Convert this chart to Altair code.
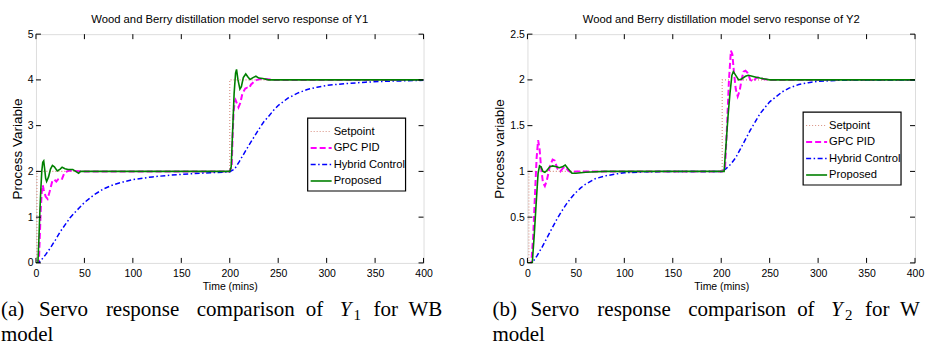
import altair as alt
import pandas as pd

# ---------------- data ----------------
X_TICKS = [0, 50, 100, 150, 200, 250, 300, 350, 400]
Y1_TICKS = [0, 1, 2, 3, 4, 5]
Y2_TICKS = [0, 0.5, 1, 1.5, 2, 2.5]
SERIES = ["Setpoint", "GPC PID", "Hybrid Control", "Proposed"]

# Y1 panel
y1_set_t = [0, 1, 1, 200, 200, 400]
y1_set_v = [0, 0, 2, 2, 4, 4]

y1_gpc_t = [0, 3, 4, 5, 6, 7, 8, 10, 12, 14, 17, 19, 21, 23, 25, 27, 29, 32, 35, 40, 50,
            200, 202, 203, 204, 205, 206, 208, 209, 211, 213, 216, 218, 220, 222, 225, 228, 232, 236, 245, 400]
y1_gpc_v = [0, 0, 0.6, 1.2, 1.55, 1.7, 1.6, 1.45, 1.4, 1.55, 1.8, 1.82, 1.78, 1.83, 1.86, 1.84, 1.95, 2.0, 2.02, 2.01, 2.0,
            2.0, 2.1, 2.8, 3.3, 3.5, 3.56, 3.45, 3.4, 3.5, 3.7, 3.81, 3.83, 3.82, 3.9, 3.96, 4.0, 4.02, 4.02, 4.0, 4.0]

y1_hyb_t = [0, 3, 5, 10, 15, 20, 25, 30, 35, 40, 45, 50, 60, 70, 80, 90, 100, 120, 140, 160, 180, 200,
            205, 210, 215, 220, 225, 230, 235, 240, 245, 250, 260, 270, 280, 290, 300, 320, 340, 360, 380, 400]
y1_hyb_v = [0, 0, 0.05, 0.18, 0.33, 0.5, 0.68, 0.83, 0.98, 1.1, 1.21, 1.32, 1.49, 1.62, 1.71, 1.77, 1.82, 1.88, 1.92, 1.95, 1.97, 1.99,
            2.05, 2.22, 2.4, 2.58, 2.75, 2.92, 3.08, 3.2, 3.33, 3.44, 3.6, 3.71, 3.79, 3.84, 3.88, 3.92, 3.95, 3.97, 3.98, 3.99]

y1_pro_t = [0, 2, 3, 4, 5, 6, 7, 8, 9, 10, 11, 13, 15, 17, 19, 22, 25, 27, 30, 33, 38, 41, 44, 46, 60,
            200, 201.5, 203, 204.5, 206, 207, 208.5, 210.5, 212, 214, 216.5, 219, 221, 224, 227, 230, 234, 240, 400]
y1_pro_v = [0, 0, 0.5, 1.1, 1.6, 2.0, 2.2, 2.23, 2.05, 1.85, 1.78, 1.88, 2.05, 2.13, 2.1, 2.01, 2.05, 2.09, 2.06, 2.04, 2.04, 2.0, 1.96, 2.0, 2.0,
            2.0, 2.1, 2.9, 3.7, 4.15, 4.23, 4.0, 3.8, 3.85, 4.05, 4.13, 4.06, 4.01, 4.05, 4.08, 4.04, 4.03, 4.0, 4.0]

# Y2 panel
y2_set_t = [0, 1.5, 1.5, 201, 201, 400]
y2_set_v = [0, 0, 1, 1, 2, 2]

y2_gpc_t = [0, 4, 6, 8, 9.5, 11, 12.5, 14, 16, 18, 20, 23, 26, 28, 31, 34, 37, 39, 42, 45, 50, 60,
            201, 204, 206, 208, 210, 211.5, 213, 215, 217, 219, 221, 223, 225, 227, 230, 233, 236, 239, 243, 250, 400]
y2_gpc_v = [0, 0, 0.3, 0.8, 1.15, 1.34, 1.25, 1.05, 0.88, 0.84, 0.9, 1.05, 1.13, 1.12, 1.03, 1.0, 1.04, 1.05, 1.01, 0.99, 1.0, 1.0,
            1.0, 1.05, 1.5, 2.0, 2.32, 2.28, 2.1, 1.9, 1.82, 1.88, 2.0, 2.09, 2.1, 2.08, 2.0, 1.98, 2.02, 2.03, 2.01, 2.0, 2.0]

y2_hyb_t = [0, 5, 10, 15, 20, 25, 30, 35, 40, 45, 50, 55, 60, 70, 80, 90, 100, 120, 150, 201,
            205, 210, 215, 220, 230, 240, 246, 250, 263, 270, 280, 290, 300, 320, 350, 400]
y2_hyb_v = [0, 0, 0.08, 0.17, 0.27, 0.37, 0.47, 0.56, 0.64, 0.71, 0.77, 0.82, 0.86, 0.92, 0.95, 0.97, 0.985, 0.995, 1.0, 1.0,
            1.03, 1.08, 1.15, 1.25, 1.45, 1.63, 1.71, 1.76, 1.87, 1.91, 1.95, 1.97, 1.985, 1.995, 2.0, 2.0]

y2_pro_t = [0, 5, 7, 9, 11, 12.5, 14, 16, 18, 20, 23, 26, 30, 33, 36, 39, 42, 46, 50, 60, 80,
            201, 203, 205, 207, 209, 211, 212.5, 215, 218, 221, 225, 228, 232, 236, 240, 245, 250, 400]
y2_pro_v = [0, 0, 0.3, 0.65, 0.98, 1.06, 1.05, 1.0, 0.99, 1.01, 1.05, 1.06, 1.05, 1.04, 1.05, 1.07, 1.03, 0.98, 0.98, 0.99, 1.0,
            1.0, 1.0, 1.3, 1.6, 1.85, 2.05, 2.09, 2.05, 2.0, 2.01, 2.04, 2.05, 2.04, 2.03, 2.02, 2.01, 2.0, 2.0]

# ---------------- styles ----------------
SANS = "Liberation Sans, Arial"
SERIF = "Liberation Serif, Times New Roman, serif"
STYLE = {
    "Setpoint": dict(color="#d88f80", strokeDash=[1, 2], strokeWidth=1.1),
    "GPC PID": dict(color="#ff00ff", strokeDash=[6, 3], strokeWidth=2),
    "Hybrid Control": dict(color="#0000ff", strokeDash=[5, 2.5, 1.5, 2.5], strokeWidth=1.5),
    "Proposed": dict(color="#008000", strokeWidth=1.6),
}
W, H = 388, 229


def series_df(t, v):
    return pd.DataFrame({"t": t, "v": v, "i": list(range(len(t)))})


def panel(series, y_ticks, y_max, title, ytitle, tag, sub, lx, ly, last_limit):
    xs = alt.Scale(domain=[0, 400], nice=False, zero=False)
    ys = alt.Scale(domain=[0, y_max], nice=False, zero=True)
    xaxis = alt.Axis(values=X_TICKS, title="Time (mins)", grid=False, domain=False, ticks=False,
                     labelFont=SANS, labelFontSize=10.5, labelColor="black", labelPadding=6,
                     titleFont=SANS, titleFontSize=10.5, titleFontWeight="normal", titleColor="black",
                     titlePadding=2, labelFlush=False)
    yaxis = alt.Axis(values=y_ticks, title=ytitle, grid=False, domain=False, ticks=False, format="~g",
                     labelFont=SANS, labelFontSize=10.5, labelColor="black", labelPadding=3,
                     titleFont=SANS, titleFontSize=13.5, titleFontWeight="normal", titleColor="black",
                     titlePadding=3, labelFlush=False)
    one = pd.DataFrame({"a": [0]})
    layers = []
    for name, (t, v) in zip(SERIES, series):
        st = STYLE[name]
        layers.append(
            alt.Chart(series_df(t, v)).mark_line(clip=True, **st).encode(
                x=alt.X("t:Q", scale=xs, axis=xaxis),
                y=alt.Y("v:Q", scale=ys, axis=yaxis),
                order="i:Q",
            )
        )
    # inward ticks on all four sides
    xt = pd.DataFrame({"t": X_TICKS})
    yt = pd.DataFrame({"v": y_ticks})
    for y0, y1 in [(H - 5, H), (0, 5)]:
        layers.append(alt.Chart(xt).mark_rule(color="black", strokeWidth=1).encode(
            x=alt.X("t:Q", scale=xs, axis=xaxis), y=alt.value(y0), y2=alt.value(y1)))
    for x0, x1 in [(0, 5), (W - 5, W)]:
        layers.append(alt.Chart(yt).mark_rule(color="black", strokeWidth=1).encode(
            y=alt.Y("v:Q", scale=ys, axis=yaxis), x=alt.value(x0), x2=alt.value(x1)))
    # legend box
    layers.append(alt.Chart(one).mark_rect(fill="white", stroke="black", strokeWidth=1.2).encode(
        x=alt.value(lx), x2=alt.value(lx + 98), y=alt.value(ly), y2=alt.value(ly + 73)))
    for k, name in enumerate(SERIES):
        yy = ly + 13.5 + 16.5 * k
        layers.append(alt.Chart(one).mark_rule(**STYLE[name]).encode(
            x=alt.value(lx + 3), x2=alt.value(lx + 24), y=alt.value(yy), y2=alt.value(yy)))
        layers.append(alt.Chart(one).mark_text(text=name, font=SANS, fontSize=11.2, align="left",
                                               baseline="middle", color="black").encode(
            x=alt.value(lx + 26), y=alt.value(yy)))
    # caption (justified words)
    cap_words = [(tag, 0), ("Servo", 38), ("response", 105), ("comparison", 196), ("of", 305),
                 ("for", 373)]
    base_x = -35
    for word, dx in cap_words:
        layers.append(alt.Chart(one).mark_text(text=word, font=SERIF, fontSize=21, align="left",
                                               baseline="alphabetic", color="black").encode(
            x=alt.value(base_x + dx), y=alt.value(282)))
    layers.append(alt.Chart(one).mark_text(text="WB", font=SERIF, fontSize=21, align="left",
                                           baseline="alphabetic", color="black",
                                           limit=last_limit, ellipsis="\u200b").encode(
        x=alt.value(base_x + 408), y=alt.value(282)))
    layers.append(alt.Chart(one).mark_text(text="Y", font=SERIF, fontSize=21, fontStyle="italic",
                                           align="left", baseline="alphabetic", color="black").encode(
        x=alt.value(base_x + 339), y=alt.value(282)))
    layers.append(alt.Chart(one).mark_text(text=sub, font=SERIF, fontSize=15, align="left",
                                           baseline="alphabetic", color="black").encode(
        x=alt.value(base_x + 353), y=alt.value(286)))
    layers.append(alt.Chart(one).mark_text(text="model", font=SERIF, fontSize=21, align="left",
                                           baseline="alphabetic", color="black").encode(
        x=alt.value(base_x), y=alt.value(307)))
    return alt.layer(*layers).properties(
        width=W, height=H,
        title=alt.TitleParams(title, font=SANS, fontSize=11.3, fontWeight="normal", color="black",
                              offset=4, anchor="middle", frame="group"),
    )


p1 = panel(
    [(y1_set_t, y1_set_v), (y1_gpc_t, y1_gpc_v), (y1_hyb_t, y1_hyb_v), (y1_pro_t, y1_pro_v)],
    Y1_TICKS, 5, "Wood and Berry distillation model servo response of Y1", "Process Variable",
    "(a)", "1", 272, 84, 200,
)
p2 = panel(
    [(y2_set_t, y2_set_v), (y2_gpc_t, y2_gpc_v), (y2_hyb_t, y2_hyb_v), (y2_pro_t, y2_pro_v)],
    Y2_TICKS, 2.5, "Wood and Berry distillation model servo response of Y2", "Process variable",
    "(b)", "2", 276, 78, 24,
)

chart = alt.hconcat(p1, p2, spacing=104, bounds="flush").properties(
    padding={"left": 0, "top": 13, "right": 0, "bottom": 0}
).configure_view(stroke="black", strokeWidth=1.2).configure(background="white")

chart.save("out.html", embed_options={"renderer": "svg", "actions": False})
